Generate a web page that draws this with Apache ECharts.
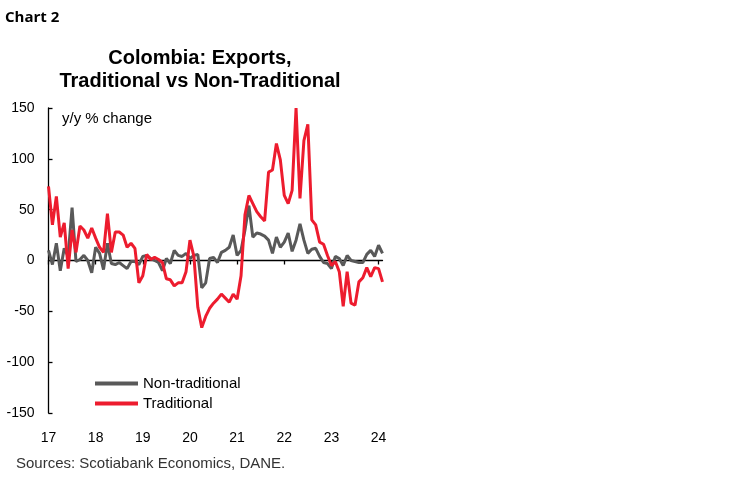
<!DOCTYPE html>
<html>
<head>
<meta charset="utf-8">
<script src="https://cdn.jsdelivr.net/npm/echarts@6/dist/echarts.min.js"></script>
<style>
html,body{margin:0;padding:0;background:#fff;}
#c{width:749px;height:482px;}
</style>
</head>
<body>
<div id="c"></div>
<script>
// Year tick labels (January of each year)
const yearLabels = ['17','18','19','20','21','22','23','24'];
const startYear = 2017;
const monthCount = 86; // Jan 2017 .. Feb 2024

// Non-traditional exports, y/y % change (monthly)
const nonTraditional = [
  10, -4, 17, -10, 12, 4, 52, -1, 1, 5, 0, -12,
  13, 7, -9, 17, -3, -4, -2, -5, -8, -1, -1, -4,
  4, 5, 2, 0, -2, -10, 2, -3, 10, 5, 4, 7,
  2, 5, 6, -27, -22, 2, 3, -2, 8, 10, 13, 25,
  5, 10, 30, 54, 23, 27, 26, 24, 20, 7, 23, 13,
  18, 27, 9, 20, 36, 20, 7, 11, 12, 4, -2, -3,
  -8, 4, 2, -5, 5, 0, -1, -2, -2, 6, 10, 4,
  15, 7
];

// Traditional exports, y/y % change (monthly)
const traditional = [
  73, 35, 63, 23, 37, -8, 30, 8, 34, 30, 22, 32,
  22, 13, 8, 46, 8, 28, 28, 25, 13, 17, 12, -22,
  -15, 6, 1, 3, 1, -2, -18, -19, -25, -22, -22, -11,
  20, 4, -46, -66, -55, -47, -42, -38, -33, -37, -41, -33,
  -38, -15, 45, 64, 56, 48, 43, 39, 87, 89, 115, 99,
  64, 56, 69, 150, 61, 118, 134, 40, 35, 18, 16, 5,
  -5, -1, -11, -45, -11, -42, -44, -21, -17, -7, -16, -7,
  -8, -21
];

const categories = [];
for (let i = 0; i < monthCount; i++) {
  const y = startYear + Math.floor(i / 12);
  const m = (i % 12) + 1;
  categories.push(y + '-' + (m < 10 ? '0' + m : m));
}
const isJan = (i) => i % 12 === 0;

const chart = echarts.init(document.getElementById('c'), null, {renderer: 'canvas'});
const font = "'Liberation Sans', Arial, sans-serif";
chart.setOption({
  animation: false,
  backgroundColor: '#fff',
  title: [
    {text: 'Chart 2', left: 5, top: 10, padding: 0,
     textStyle: {fontFamily: "'Open Sans', 'Noto Sans', sans-serif", fontWeight: 'bold', fontSize: 15, color: '#000'}},
    {text: 'Colombia: Exports,\nTraditional vs Non-Traditional', left: 200, top: 47, textAlign: 'center', padding: 0,
     textStyle: {fontFamily: font, fontWeight: 'bold', fontSize: 20, lineHeight: 23, color: '#000'}},
    {text: 'y/y % change', left: 62, top: 111, padding: 0,
     textStyle: {fontFamily: font, fontWeight: 'normal', fontSize: 15, color: '#000'}},
    {text: 'Sources: Scotiabank Economics, DANE.', left: 16, top: 456, padding: 0,
     textStyle: {fontFamily: font, fontWeight: 'normal', fontSize: 15, color: '#333'}}
  ],
  legend: {
    orient: 'vertical', left: 95, top: 376, padding: 0,
    icon: 'rect', itemWidth: 43, itemHeight: 4, itemGap: 5,
    textStyle: {fontFamily: font, fontSize: 15, color: '#000', lineHeight: 14},
    data: ['Non-traditional', 'Traditional']
  },
  grid: {left: 48.5, top: 108, width: 334, height: 305, containLabel: false},
  xAxis: [
    {
      type: 'category', data: categories, boundaryGap: false,
      axisLine: {onZero: true, lineStyle: {color: '#000', width: 1.3}},
      axisTick: {show: true, interval: (i) => isJan(i), length: 4, lineStyle: {color: '#000', width: 1.3}},
      axisLabel: {show: false},
      splitLine: {show: false}
    },
    {
      type: 'category', data: categories, boundaryGap: false, position: 'bottom',
      axisLine: {show: false, onZero: false},
      axisTick: {show: false},
      axisLabel: {
        show: true, interval: (i) => isJan(i), margin: 18,
        formatter: (v, i) => yearLabels[Math.floor(i / 12)],
        fontFamily: font, fontSize: 14, color: '#000'
      },
      splitLine: {show: false}
    }
  ],
  yAxis: {
    type: 'value', min: -150, max: 150, interval: 50,
    axisLine: {show: true, lineStyle: {color: '#000', width: 1.3}},
    axisTick: {show: true, inside: true, length: 4, lineStyle: {color: '#000', width: 1.3}},
    axisLabel: {fontFamily: font, fontSize: 14, color: '#000', margin: 14},
    splitLine: {show: false}
  },
  series: [
    {name: 'Non-traditional', type: 'line', xAxisIndex: 0, data: nonTraditional,
     showSymbol: false, symbol: 'none', color: '#595959',
     lineStyle: {color: '#595959', width: 3}},
    {name: 'Traditional', type: 'line', xAxisIndex: 0, data: traditional,
     showSymbol: false, symbol: 'none', color: '#ED1C2E',
     lineStyle: {color: '#ED1C2E', width: 3}}
  ]
});
</script>
</body>
</html>
